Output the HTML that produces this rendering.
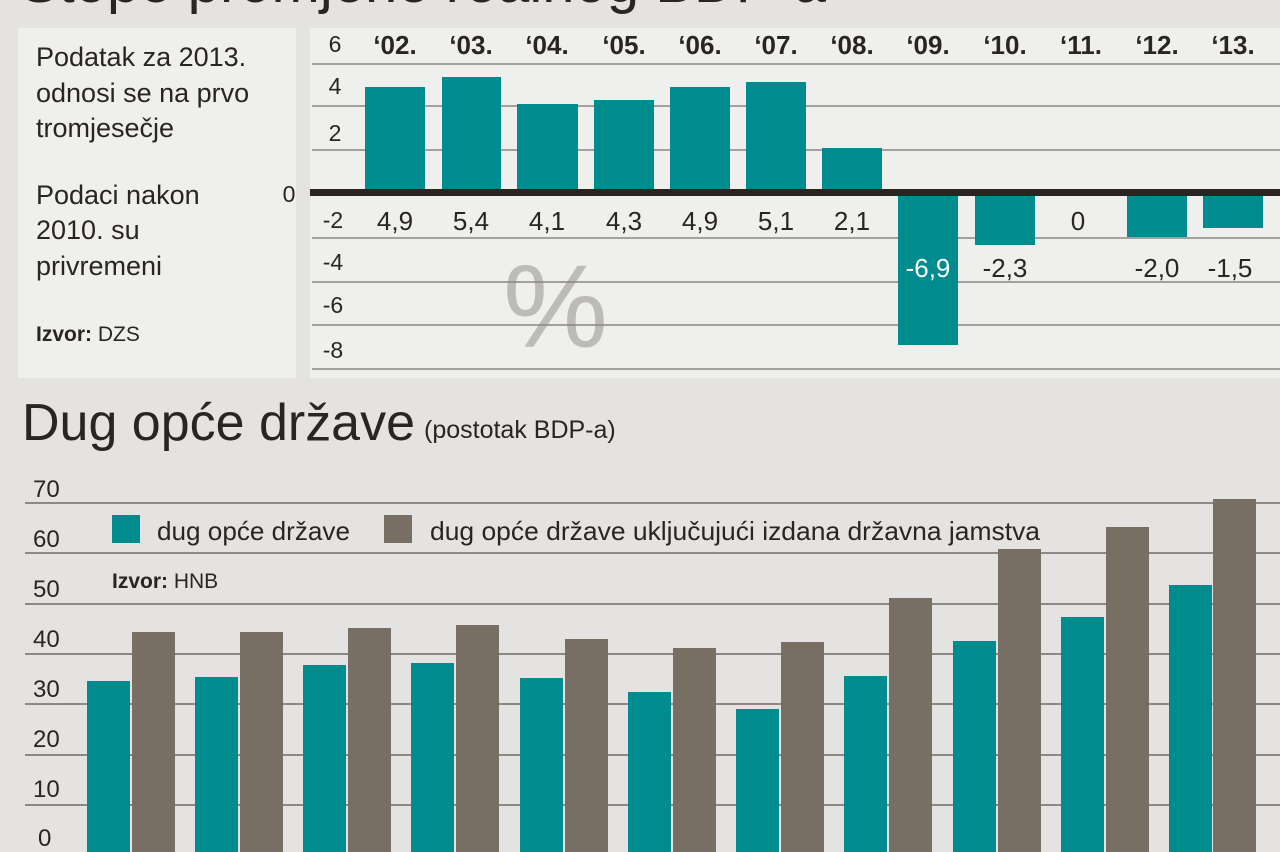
<!DOCTYPE html>
<html><head><meta charset="utf-8"><style>
html,body{margin:0;padding:0;background:#e4e3e1;}
svg{display:block;font-family:"Liberation Sans",sans-serif;}
</style></head><body>
<svg width="1280" height="852" viewBox="0 0 1280 852" xmlns="http://www.w3.org/2000/svg">
<rect width="1280" height="852" fill="#e4e3e1"/>
<text x="20" y="2" font-size="58" fill="#2a2520">Stope promjene realnog BDP-a</text>
<rect x="18" y="28" width="278" height="350" fill="#efefee"/>
<rect x="310" y="28" width="970" height="350" fill="#efefee"/>
<g font-size="27" fill="#2a2520">
<text x="36" y="66">Podatak za 2013.</text>
<text x="36" y="102">odnosi se na prvo</text>
<text x="36" y="137">tromjesečje</text>
<text x="36" y="204">Podaci nakon</text>
<text x="36" y="239">2010. su</text>
<text x="36" y="275">privremeni</text>
<text x="36" y="341" font-size="21"><tspan font-weight="bold">Izvor:</tspan> DZS</text>
</g>
<text x="503" y="347" font-size="118" fill="#bdbbb9">%</text>
<g stroke="#8a8682" stroke-width="1.5">
<line x1="312" y1="64" x2="1280" y2="64"/><line x1="312" y1="106" x2="1280" y2="106"/>
<line x1="312" y1="150" x2="1280" y2="150"/><line x1="312" y1="238" x2="1280" y2="238"/>
<line x1="312" y1="282" x2="1280" y2="282"/><line x1="312" y1="325" x2="1280" y2="325"/>
<line x1="312" y1="369" x2="1280" y2="369"/>
</g>
<g font-size="23" fill="#2a2520" text-anchor="middle">
<text x="335" y="52">6</text><text x="335" y="94">4</text><text x="335" y="141">2</text>
<text x="289" y="202">0</text><text x="333" y="228">-2</text><text x="333" y="270">-4</text>
<text x="333" y="313">-6</text><text x="333" y="358">-8</text>
</g>
<g fill="#008b8e">
<rect x="365" y="87" width="60" height="105"/><rect x="442" y="77" width="59" height="115"/>
<rect x="517" y="104" width="61" height="88"/><rect x="594" y="100" width="60" height="92"/>
<rect x="670" y="87" width="60" height="105"/><rect x="746" y="82" width="60" height="110"/>
<rect x="822" y="148" width="60" height="44"/>
<rect x="898" y="192" width="60" height="153"/><rect x="975" y="192" width="60" height="53"/>
<rect x="1127" y="192" width="60" height="45"/><rect x="1203" y="192" width="60" height="36"/>
</g>
<rect x="310" y="189" width="970" height="7" fill="#2a2520"/>
<g font-size="26" font-weight="bold" fill="#2a2520" text-anchor="middle">
<text x="395" y="54">‘02.</text><text x="471" y="54">‘03.</text><text x="547" y="54">‘04.</text>
<text x="624" y="54">‘05.</text><text x="700" y="54">‘06.</text><text x="776" y="54">‘07.</text>
<text x="852" y="54">‘08.</text><text x="928" y="54">‘09.</text><text x="1005" y="54">‘10.</text>
<text x="1081" y="54">‘11.</text><text x="1157" y="54">‘12.</text><text x="1233" y="54">‘13.</text>
</g>
<g font-size="26" fill="#2a2520" text-anchor="middle">
<text x="395" y="230">4,9</text><text x="471" y="230">5,4</text><text x="547" y="230">4,1</text>
<text x="624" y="230">4,3</text><text x="700" y="230">4,9</text><text x="776" y="230">5,1</text>
<text x="852" y="230">2,1</text><text x="1078" y="230">0</text>
<text x="928" y="277" fill="#ffffff">-6,9</text><text x="1005" y="277">-2,3</text>
<text x="1157" y="277">-2,0</text><text x="1230" y="277">-1,5</text>
</g>
<text x="22" y="440" font-size="52" fill="#2a2520" textLength="393" lengthAdjust="spacingAndGlyphs">Dug opće države</text>
<text x="424" y="438" font-size="25" fill="#2a2520">(postotak BDP-a)</text>
<g stroke="#6e6a66" stroke-width="1.5">
<line x1="25" y1="503" x2="1280" y2="503"/><line x1="25" y1="553" x2="1280" y2="553"/>
<line x1="25" y1="604" x2="1280" y2="604"/><line x1="25" y1="654" x2="1280" y2="654"/>
<line x1="25" y1="704" x2="1280" y2="704"/><line x1="25" y1="755" x2="1280" y2="755"/>
<line x1="25" y1="805" x2="1280" y2="805"/>
</g>
<g font-size="24" fill="#2a2520">
<text x="33" y="497">70</text><text x="33" y="547">60</text><text x="33" y="597">50</text>
<text x="33" y="647">40</text><text x="33" y="697">30</text><text x="33" y="747">20</text>
<text x="33" y="797">10</text><text x="38" y="846">0</text>
</g>
<g fill="#008b8e">
<rect x="87" y="681" width="43" height="180"/><rect x="195" y="677" width="43" height="180"/>
<rect x="303" y="665" width="43" height="190"/><rect x="411" y="663" width="43" height="190"/>
<rect x="520" y="678" width="43" height="180"/><rect x="628" y="692" width="43" height="170"/>
<rect x="736" y="709" width="43" height="150"/><rect x="844" y="676" width="43" height="180"/>
<rect x="953" y="641" width="43" height="220"/><rect x="1061" y="617" width="43" height="240"/>
<rect x="1169" y="585" width="43" height="270"/>
</g>
<g fill="#786e64">
<rect x="132" y="632" width="43" height="220"/><rect x="240" y="632" width="43" height="220"/>
<rect x="348" y="628" width="43" height="230"/><rect x="456" y="625" width="43" height="230"/>
<rect x="565" y="639" width="43" height="220"/><rect x="673" y="648" width="43" height="210"/>
<rect x="781" y="642" width="43" height="210"/><rect x="889" y="598" width="43" height="260"/>
<rect x="998" y="549" width="43" height="310"/><rect x="1106" y="527" width="43" height="330"/>
<rect x="1213" y="499" width="43" height="360"/>
</g>
<rect x="112" y="515" width="28" height="28" fill="#008b8e"/>
<rect x="384" y="515" width="28" height="28" fill="#786e64"/>
<g font-size="26" fill="#2a2520">
<text x="157" y="540" textLength="193" lengthAdjust="spacingAndGlyphs">dug opće države</text>
<text x="430" y="540" textLength="610" lengthAdjust="spacingAndGlyphs">dug opće države uključujući izdana državna jamstva</text>
<text x="112" y="588" font-size="21"><tspan font-weight="bold">Izvor:</tspan> HNB</text>
</g>
</svg>
</body></html>
